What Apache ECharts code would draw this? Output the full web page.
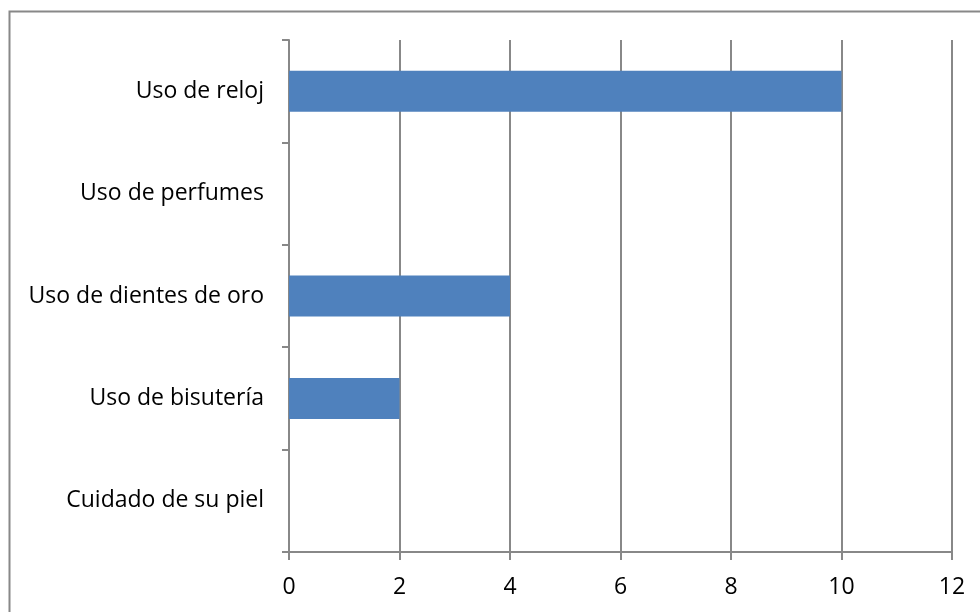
<!DOCTYPE html>
<html lang="es">
<head>
  <meta charset="UTF-8">
  <title>Uso de accesorios</title>
  <script src="https://cdn.jsdelivr.net/npm/echarts@6/dist/echarts.min.js"></script>
  <style>
    html, body { margin: 0; padding: 0; background: #fff; }
    #chart { width: 980px; height: 612px; }
  </style>
</head>
<body>
  <div id="chart"></div>
  <script>
    // categories listed bottom to top (as the category axis draws them)
    const categories = ['Cuidado de su piel', 'Uso de bisutería', 'Uso de dientes de oro', 'Uso de perfumes', 'Uso de reloj'];
    const values = [0, 2, 4, 0, 10];
    const xTicks = [0, 2, 4, 6, 8, 10, 12];

    const gray = '#888888';
    const font = 'Open Sans, Noto Sans, sans-serif';

    let myChart = echarts.init(document.getElementById('chart'));

    let option = {
      animation: false,
      backgroundColor: '#fff',
      graphic: [
        {
          type: 'rect',
          shape: { x: 9.5, y: 11.5, width: 1000, height: 700 },
          style: { fill: 'none', stroke: gray, lineWidth: 2 },
          silent: true
        }
      ],
      grid: {
        left: 289,
        right: 28,
        top: 40,
        bottom: 60,
        containLabel: false
      },
      xAxis: {
        type: 'value',
        min: xTicks[0],
        max: xTicks[xTicks.length - 1],
        interval: 2,
        axisLine: { show: true, lineStyle: { color: gray, width: 2 } },
        axisTick: { show: true, length: 8, lineStyle: { color: gray, width: 2 } },
        axisLabel: { color: '#000', fontSize: 23, fontFamily: font, margin: 24 },
        splitLine: { show: true, lineStyle: { color: gray, width: 2 } }
      },
      yAxis: {
        type: 'category',
        data: categories,
        axisLine: { show: true, onZero: false, lineStyle: { color: gray, width: 2 } },
        axisTick: { show: true, length: 7, alignWithLabel: false, lineStyle: { color: gray, width: 2 } },
        axisLabel: { color: '#000', fontSize: 23, fontFamily: font, margin: 25 },
        splitLine: { show: false }
      },
      series: [
        {
          type: 'bar',
          data: values,
          barWidth: '40%',
          itemStyle: { color: '#4F81BD' }
        }
      ]
    };

    myChart.setOption(option);
  </script>
</body>
</html>
